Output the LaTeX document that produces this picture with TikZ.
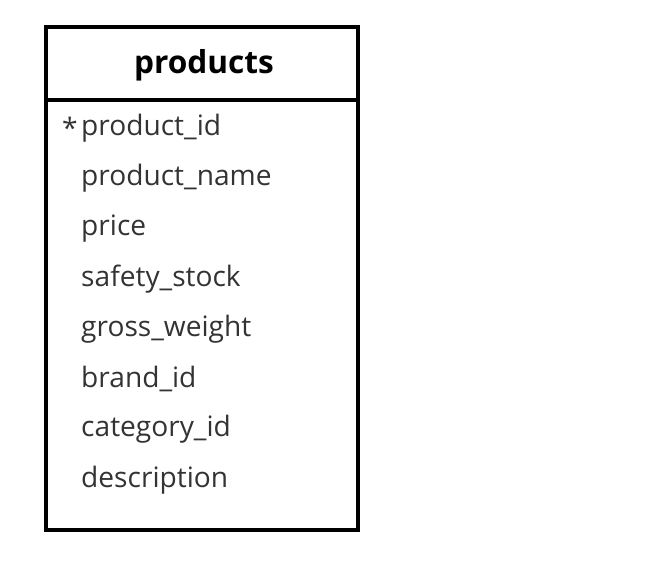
\documentclass[tikz,border=0pt]{standalone}
\usepackage{fontspec}
\setmainfont{Open Sans}
\usetikzlibrary{positioning}

\tikzset{
  tablebox/.style={draw=black, line width=2.6pt},
  titletext/.style={font=\fontsize{27}{30}\selectfont\bfseries, text=black, inner sep=0pt},
  fieldtext/.style={font=\fontsize{24}{28}\selectfont, text=black!80, anchor=west, inner sep=0pt}
}

\begin{document}
\begin{tikzpicture}[x=0.03cm, y=-0.03cm]
\useasboundingbox (0,0) rectangle (666,570);
\draw[tablebox] (46,27) rectangle (358,530);
\draw[tablebox] (46,100) -- (358,100);
\node[titletext] (title) at (204,65) {products};
\node[fieldtext] (key) at (62,128) {*};
\node[fieldtext] (f1) at (81,128) {product\_id};
\node[fieldtext] (f2) at (81,178) {product\_name};
\node[fieldtext] (f3) at (81,229) {price};
\node[fieldtext] (f4) at (81,279) {safety\_stock};
\node[fieldtext] (f5) at (81,329) {gross\_weight};
\node[fieldtext] (f6) at (81,379) {brand\_id};
\node[fieldtext] (f7) at (81,429) {category\_id};
\node[fieldtext] (f8) at (81,480) {description};
\end{tikzpicture}
\end{document}
